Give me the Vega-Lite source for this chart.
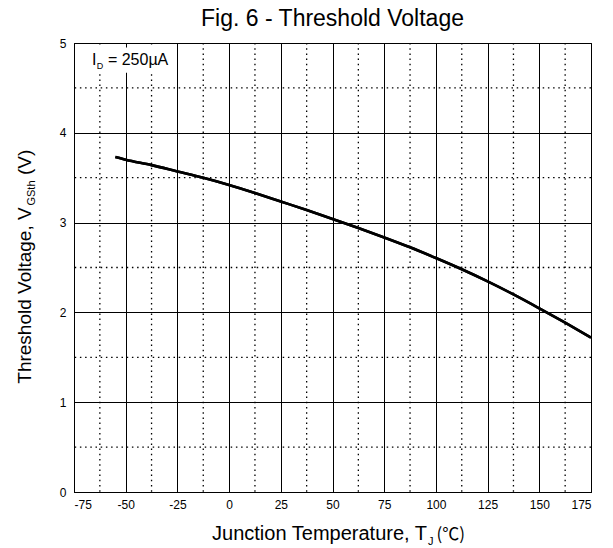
{
  "$schema": "https://vega.github.io/schema/vega-lite/v6.json",
  "width": 517,
  "height": 449,
  "autosize": {"type": "none"},
  "padding": {"left": 74, "top": 43, "right": 22, "bottom": 56},
  "background": "white",
  "config": {
    "font": "Liberation Sans",
    "view": {"stroke": "#000", "strokeWidth": 1},
    "axis": {
      "grid": true,
      "gridColor": "#000",
      "gridOpacity": 1,
      "gridWidth": 1,
      "ticks": false,
      "domain": true,
      "domainColor": "#000",
      "domainWidth": 1,
      "labelFont": "Liberation Sans",
      "labelFontSize": 12,
      "labelColor": "#000",
      "titleFont": "Liberation Sans"
    },
    "axisX": {"labelPadding": 7},
    "axisY": {"labelPadding": 8}
  },
  "title": {
    "text": "Fig. 6 - Threshold Voltage",
    "fontSize": 23,
    "fontWeight": "normal",
    "font": "Liberation Sans",
    "color": "#000",
    "anchor": "middle",
    "frame": "group",
    "offset": 6
  },
  "datasets": {
    "curve": [
      {"t": -55, "v": 3.73},
      {"t": -50, "v": 3.70},
      {"t": -37.5, "v": 3.64},
      {"t": -25, "v": 3.57},
      {"t": -12.5, "v": 3.50},
      {"t": 0, "v": 3.42},
      {"t": 12.5, "v": 3.33},
      {"t": 25, "v": 3.235},
      {"t": 37.5, "v": 3.14},
      {"t": 50, "v": 3.04},
      {"t": 62.5, "v": 2.94},
      {"t": 75, "v": 2.835},
      {"t": 87.5, "v": 2.725},
      {"t": 100, "v": 2.605},
      {"t": 112.5, "v": 2.48},
      {"t": 125, "v": 2.345},
      {"t": 137.5, "v": 2.2},
      {"t": 150, "v": 2.045},
      {"t": 162.5, "v": 1.885},
      {"t": 175, "v": 1.72}
    ],
    "minorX": [
      {"t": -62.5}, {"t": -37.5}, {"t": -12.5}, {"t": 12.5}, {"t": 37.5},
      {"t": 62.5}, {"t": 87.5}, {"t": 112.5}, {"t": 137.5}, {"t": 162.5}
    ],
    "minorY": [
      {"v": 0.5}, {"v": 1.5}, {"v": 2.5}, {"v": 3.5}, {"v": 4.5}
    ]
  },
  "layer": [
    {
      "data": {"name": "curve"},
      "mark": {"type": "line", "color": "#000", "strokeWidth": 2.6, "interpolate": "monotone"},
      "encoding": {
        "x": {"field": "t", "type": "quantitative", "title": null,
              "scale": {"domain": [-75, 175], "nice": false, "zero": false},
              "axis": {"values": [-75, -50, -25, 0, 25, 50, 75, 100, 125, 150, 175], "labelExpr": "'' + datum.value"}},
        "y": {"field": "v", "type": "quantitative", "title": null,
              "scale": {"domain": [0, 5], "nice": false},
              "axis": {"values": [0, 1, 2, 3, 4, 5], "labelExpr": "'' + datum.value"}}
      }
    },
    {
      "data": {"name": "minorX"},
      "mark": {"type": "rule", "color": "#000", "strokeWidth": 1.3, "strokeDash": [1.5, 3.7]},
      "encoding": {
        "x": {"field": "t", "type": "quantitative", "title": null}
      }
    },
    {
      "data": {"name": "minorY"},
      "mark": {"type": "rule", "color": "#000", "strokeWidth": 1.3, "strokeDash": [1.5, 3.7]},
      "encoding": {
        "y": {"field": "v", "type": "quantitative", "title": null}
      }
    },
    {
      "data": {"values": [{}]},
      "mark": {"type": "rect", "fill": "white"},
      "encoding": {
        "x": {"datum": -71, "type": "quantitative"},
        "x2": {"datum": -28},
        "y": {"datum": 4.67, "type": "quantitative"},
        "y2": {"datum": 4.95}
      }
    },
    {
      "data": {"name": "curve"},
      "mark": {"type": "line", "color": "#000", "strokeWidth": 2.6, "interpolate": "monotone"},
      "encoding": {
        "x": {"field": "t", "type": "quantitative", "title": null},
        "y": {"field": "v", "type": "quantitative", "title": null}
      }
    },
    {
      "data": {"values": [{}]},
      "mark": {"type": "text", "text": "I", "fontSize": 16, "align": "left", "baseline": "alphabetic", "color": "#000"},
      "encoding": {"x": {"datum": -66.3, "type": "quantitative"}, "y": {"datum": 4.76, "type": "quantitative"}}
    },
    {
      "data": {"values": [{}]},
      "mark": {"type": "text", "text": "D", "fontSize": 9, "align": "left", "baseline": "alphabetic", "color": "#000"},
      "encoding": {"x": {"datum": -64.0, "type": "quantitative"}, "y": {"datum": 4.705, "type": "quantitative"}}
    },
    {
      "data": {"values": [{}]},
      "mark": {"type": "text", "text": "= 250µA", "fontSize": 16, "align": "left", "baseline": "alphabetic", "color": "#000"},
      "encoding": {"x": {"datum": -58.6, "type": "quantitative"}, "y": {"datum": 4.76, "type": "quantitative"}}
    },
    {
      "data": {"values": [{}]},
      "mark": {"type": "text", "text": "Junction Temperature, T", "fontSize": 20, "align": "right", "baseline": "alphabetic", "color": "#000"},
      "encoding": {"x": {"datum": 95.7, "type": "quantitative"}, "y": {"datum": -0.529, "type": "quantitative"}}
    },
    {
      "data": {"values": [{}]},
      "mark": {"type": "text", "text": "J", "fontSize": 11, "align": "left", "baseline": "alphabetic", "color": "#000"},
      "encoding": {"x": {"datum": 96.2, "type": "quantitative"}, "y": {"datum": -0.585, "type": "quantitative"}}
    },
    {
      "data": {"values": [{}]},
      "mark": {"type": "text", "text": "(℃)", "fontSize": 17, "font": "Noto Sans CJK SC", "align": "left", "baseline": "alphabetic", "color": "#000"},
      "encoding": {"x": {"datum": 100.3, "type": "quantitative"}, "y": {"datum": -0.529, "type": "quantitative"}}
    },
    {
      "data": {"values": [{}]},
      "mark": {"type": "text", "text": "Threshold Voltage, V", "fontSize": 19, "angle": 270, "align": "right", "baseline": "alphabetic", "color": "#000"},
      "encoding": {"x": {"datum": -95.8, "type": "quantitative"}, "y": {"datum": 3.17, "type": "quantitative"}}
    },
    {
      "data": {"values": [{}]},
      "mark": {"type": "text", "text": "GSth", "fontSize": 11, "angle": 270, "align": "left", "baseline": "alphabetic", "color": "#000"},
      "encoding": {"x": {"datum": -93.9, "type": "quantitative"}, "y": {"datum": 3.19, "type": "quantitative"}}
    },
    {
      "data": {"values": [{}]},
      "mark": {"type": "text", "text": "(V)", "fontSize": 19, "angle": 270, "align": "left", "baseline": "alphabetic", "color": "#000"},
      "encoding": {"x": {"datum": -95.8, "type": "quantitative"}, "y": {"datum": 3.53, "type": "quantitative"}}
    }
  ]
}
